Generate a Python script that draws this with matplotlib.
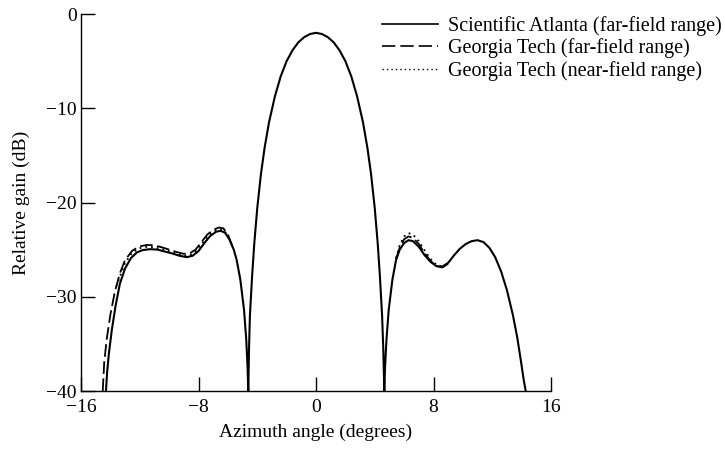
import matplotlib
matplotlib.use("Agg")
import matplotlib.pyplot as plt
from matplotlib.lines import Line2D

plt.rcParams['font.family'] = ['Liberation Serif', 'DejaVu Serif']

# ---- data (azimuth deg, relative gain dB) ----
# Scientific Atlanta (far-field range)
sa_x = [-14.3, -14.22, -14.1, -13.9, -13.65, -13.35, -13.0, -12.6, -12.2, -11.8, -11.3, -10.8,
        -10.3, -9.8, -9.3, -8.8, -8.4, -8.0, -7.6, -7.2, -6.8, -6.5, -6.2, -5.9,
        -5.6, -5.4, -5.15, -4.9, -4.75, -4.66, -4.61,
        -4.56, -4.5, -4.35, -4.2, -4.0, -3.75, -3.5, -3.2, -2.8, -2.4, -2.0, -1.6,
        -1.2, -0.8, -0.4, 0.0, 0.4, 0.8, 1.2, 1.6, 2.0, 2.4, 2.8, 3.2, 3.5, 3.75,
        4.0, 4.2, 4.35, 4.5, 4.58, 4.65,
        4.7, 4.8, 4.95, 5.2, 5.45, 5.7, 6.0, 6.3, 6.6, 7.0, 7.4, 7.8, 8.2, 8.6,
        9.0, 9.4, 9.8, 10.2, 10.6, 11.0, 11.4, 11.8, 12.2, 12.6, 13.0, 13.4,
        13.7, 13.95, 14.15, 14.28]
sa_y = [-40.0, -38.0, -36.0, -33.5, -31.0, -28.6, -27.0, -25.9, -25.3, -25.05, -24.95, -25.0,
        -25.2, -25.4, -25.65, -25.8, -25.65, -25.15, -24.3, -23.55, -23.1, -23.0, -23.2, -23.9,
        -25.0, -26.1, -28.2, -31.4, -34.5, -37.5, -40.0,
        -35.5, -32.0, -27.8, -24.3, -20.6, -17.0, -14.2, -11.5, -8.75, -6.6, -5.0, -3.85,
        -3.0, -2.45, -2.12, -2.0, -2.12, -2.45, -3.0, -3.85, -5.0, -6.6, -8.75, -11.5, -14.2, -17.0,
        -20.6, -24.3, -27.8, -32.0, -35.5, -40.0,
        -37.5, -34.5, -31.4, -28.2, -26.1, -25.0, -24.3, -24.0, -24.1, -24.7, -25.6, -26.3, -26.75, -26.8,
        -26.4, -25.6, -24.9, -24.4, -24.1, -24.0, -24.2, -24.8, -25.8, -27.3, -29.3, -31.9,
        -34.3, -36.8, -38.9, -40.0]

# Georgia Tech (far-field range)
gtf_x = [-14.52, -14.42, -14.25, -14.0, -13.7, -13.35, -13.0, -12.5, -12.0, -11.5, -11.0, -10.5,
         -10.0, -9.5, -9.0, -8.6, -8.2, -7.8, -7.4, -7.0, -6.6, -6.3, -6.0, -5.8, -5.6]
gtf_y = [-40.0, -37.0, -34.5, -31.9, -29.5, -27.5, -26.1, -25.1, -24.65, -24.5, -24.55, -24.75,
         -25.0, -25.25, -25.45, -25.4, -25.0, -24.2, -23.4, -22.9, -22.65, -22.75, -23.4, -24.2, -25.0]
gtf_rx = [5.45, 5.7, 6.0, 6.3, 6.6, 7.0, 7.4, 7.8, 8.2, 8.6, 9.0]
gtf_ry = [-26.0, -24.8, -23.9, -23.6, -23.75, -24.4, -25.4, -26.2, -26.75, -26.9, -26.5]

# Georgia Tech (near-field range)
gtn_x = [-13.6, -13.0, -12.5, -12.0, -11.5, -11.0, -10.5, -10.0, -9.5, -9.0, -8.6, -8.2,
         -7.8, -7.4, -7.0, -6.6, -6.3, -6.0]
gtn_y = [-28.9, -26.4, -25.3, -24.85, -24.7, -24.75, -24.95, -25.15, -25.45, -25.65, -25.6, -25.2,
         -24.4, -23.6, -23.1, -22.85, -22.9, -23.5]
gtn_rx = [5.45, 5.7, 6.0, 6.3, 6.6, 7.0, 7.4, 7.8, 8.2, 8.6, 9.0]
gtn_ry = [-25.9, -24.5, -23.6, -23.25, -23.4, -24.1, -25.1, -26.0, -26.6, -26.8, -26.5]

xticks = [-16, -8, 0, 8, 16]
yticks = [0, -10, -20, -30, -40]
labels = ['Scientific Atlanta (far-field range)',
          'Georgia Tech (far-field range)',
          'Georgia Tech (near-field range)']

fig = plt.figure(figsize=(7.25, 4.5), dpi=100)
ax = fig.add_axes([81/725, 1-391/450, 470/725, 377/450])

DASH = (0, (7, 2.5))
DOT = (0, (1, 2.2))
ax.plot(sa_x, sa_y, color='black', lw=1.5, solid_joinstyle='round')
ax.plot(gtf_x, gtf_y, color='black', lw=1.3, ls=DASH)
ax.plot(gtf_rx, gtf_ry, color='black', lw=1.3, ls=DASH)
ax.plot(gtn_x, gtn_y, color='black', lw=1.3, ls=DOT)
ax.plot(gtn_rx, gtn_ry, color='black', lw=1.3, ls=DOT)

ax.set_xlim(-16, 16)
ax.set_ylim(-40, 0)
ax.set_xticks(xticks)
ax.set_yticks(yticks)
ax.set_xticklabels([str(t).replace('-', '\u2212') for t in xticks])
ax.set_yticklabels([str(t).replace('-', '\u2212') for t in yticks])
ax.spines['top'].set_visible(False)
ax.spines['right'].set_visible(False)
ax.spines['left'].set_linewidth(1.0)
ax.spines['bottom'].set_linewidth(1.0)
ax.tick_params(direction='in', length=10, width=1.0, labelsize=14)
ax.tick_params(axis='x', pad=5.5)
ax.tick_params(axis='y', pad=3)
ax.set_xlabel('Azimuth angle (degrees)', fontsize=14, labelpad=6)
ax.set_ylabel('Relative gain (dB)', fontsize=14, labelpad=12)

handles = [Line2D([], [], color='black', lw=1.2),
           Line2D([], [], color='black', lw=1.2, ls=(0, (8, 3))),
           Line2D([], [], color='black', lw=1.0, ls=DOT)]
fig.legend(handles, labels, loc='upper left', bbox_to_anchor=(382/725, 1-16/450),
           frameon=False, fontsize=14.5, handlelength=2.8, handletextpad=0.5,
           labelspacing=0.12, borderpad=0, borderaxespad=0)

fig.savefig('out.png', dpi=100)
